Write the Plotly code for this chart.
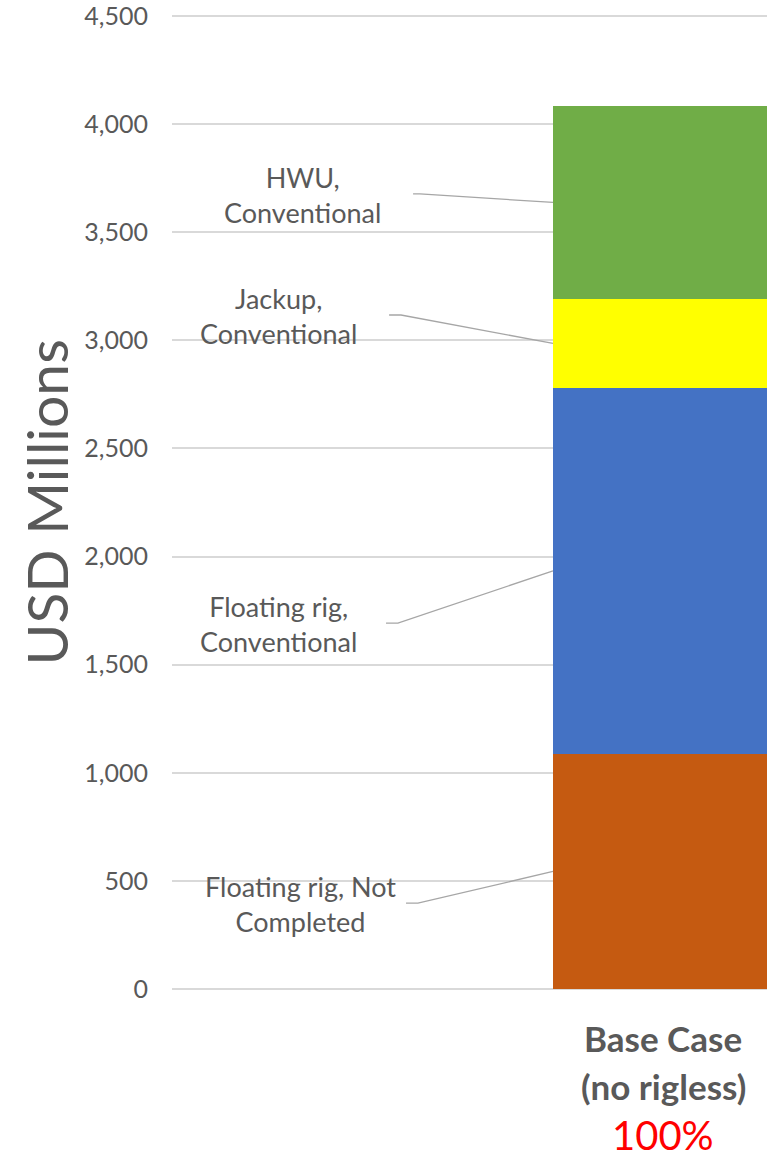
import plotly.graph_objects as go

# ---- data ----
category_lines = ["Base Case", "(no rigless)"]
category_share = "100%"
series_names = ["Floating rig, Not<br>Completed", "Floating rig,<br>Conventional",
                "Jackup,<br>Conventional", "HWU,<br>Conventional"]
series_values = [1087, 1693, 411, 893]
series_colors = ["#C55A11", "#4472C4", "#FFFF00", "#70AD47"]
y_ticks = [0, 500, 1000, 1500, 2000, 2500, 3000, 3500, 4000, 4500]
y_ticktext = ["0", "500", "1,000", "1,500", "2,000", "2,500", "3,000", "3,500", "4,000", "4,500"]

# ---- label placement (axis units) ----
label_x = [-1.65, -1.75, -1.75, -1.64]
label_y = [393, 1687, 3113, 3672]
leader_start_x = [-1.168, -1.259, -1.245, -1.136]
leader_elbow_x = [-1.114, -1.205, -1.191, -1.105]
leader_start_y = [397, 1692, 3117, 3677]
Y_MAX = 4509            # slight headroom so the 4,500 gridline is drawn
PLOT_H = 1161 - 14 - 172


def paper_y(py):
    return (989 - py) / PLOT_H


category_line_y = [paper_y(1038), paper_y(1086)]
share_y = paper_y(1135)

BAR_W = 1.0
GRAY = "#595959"
FONT = "Lato"

fig = go.Figure()
for name, v, c in zip(series_names, series_values, series_colors):
    fig.add_trace(go.Bar(x=[0], y=[v], width=BAR_W, marker=dict(color=c, line=dict(width=0)),
                         name=name, showlegend=False, hoverinfo="skip"))

# leader lines and labels
base = 0
for i, v in enumerate(series_values):
    mid = base + v / 2
    base += v
    fig.add_trace(go.Scatter(
        x=[leader_start_x[i], leader_elbow_x[i], -BAR_W / 2],
        y=[leader_start_y[i], leader_start_y[i], mid],
        mode="lines", line=dict(color="#A6A6A6", width=1.3),
        showlegend=False, hoverinfo="skip"))
    fig.add_annotation(x=label_x[i], y=label_y[i], xref="x", yref="y",
                       text=series_names[i], showarrow=False,
                       font=dict(family=FONT, size=27, color=GRAY),
                       align="center", xanchor="center", yanchor="middle")

# category label
for txt, yy in zip(category_lines, category_line_y):
    fig.add_annotation(x=0, y=yy, xref="x", yref="paper", text="<b>" + txt + "</b>",
                       showarrow=False, font=dict(family=FONT, size=35, color=GRAY),
                       xanchor="center", yanchor="middle", align="center")
fig.add_annotation(x=0, y=share_y, xref="x", yref="paper", text=category_share,
                   showarrow=False, font=dict(family=FONT, size=40, color="#FF0000"),
                   borderpad=0, xanchor="center", yanchor="middle")
# y title
fig.add_annotation(x=-0.2134, y=paper_y(502.5), xref="paper", yref="paper", text="USD Millions",
                   showarrow=False, textangle=-90,
                   font=dict(family=FONT, size=57, color=GRAY),
                   xanchor="center", yanchor="middle")

fig.update_layout(
    width=767, height=1161,
    margin=dict(l=172, r=0, t=14, b=172),
    barmode="stack",
    plot_bgcolor="white", paper_bgcolor="white",
    xaxis=dict(range=[(172 - 663) / 220, (767 - 663) / 220], showgrid=False,
               showticklabels=False, zeroline=False, showline=False, fixedrange=True),
    yaxis=dict(range=[0, Y_MAX], tickvals=y_ticks, ticktext=y_ticktext,
               showgrid=True, gridcolor="#D9D9D9", gridwidth=1.5,
               zeroline=True, zerolinecolor="#D9D9D9", zerolinewidth=1.5,
               showline=False, ticks="outside", ticklen=18, tickcolor="rgba(0,0,0,0)",
               ticklabeloverflow="allow",
               tickfont=dict(family=FONT, size=25, color=GRAY)),
)

fig.write_html("out.html")
